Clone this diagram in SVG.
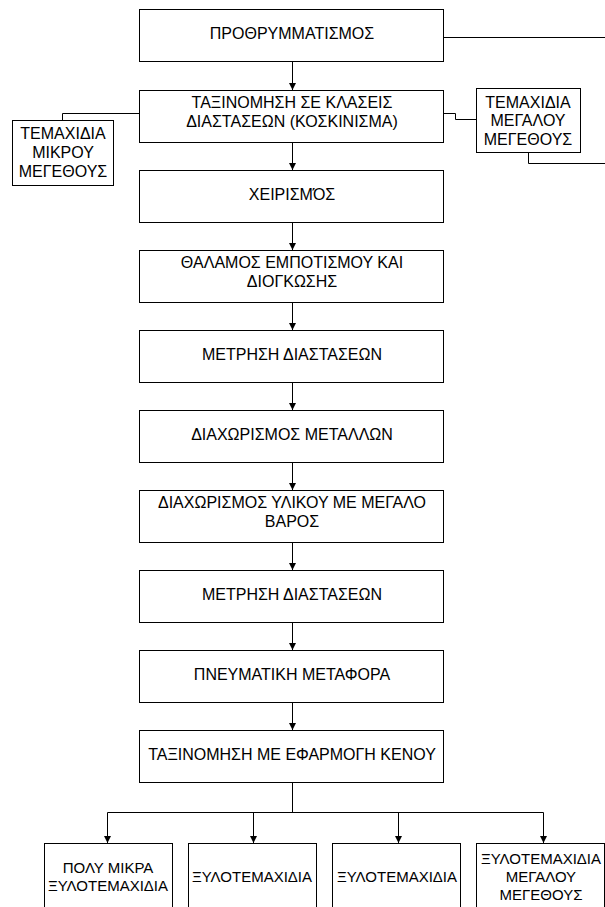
<svg xmlns="http://www.w3.org/2000/svg" width="605" height="907" viewBox="0 0 605 907">
<defs>
<marker id="ah" viewBox="0 0 8 8" refX="8" refY="4" markerWidth="7" markerHeight="7" markerUnits="userSpaceOnUse" orient="auto">
<path d="M0,0 L8,4 L0,8 z" fill="#000"/>
</marker>
</defs>
<style>
rect{fill:#fff;stroke:#000;stroke-width:1}
text{font-family:"Liberation Sans",Arial,sans-serif;font-size:16px;fill:#000;text-anchor:middle}
.s{font-size:15px}
.c{fill:none;stroke:#000;stroke-width:1}
.a{fill:none;stroke:#000;stroke-width:1;marker-end:url(#ah)}
</style>
<rect x="0" y="0" width="605" height="907" style="fill:#fff;stroke:none"/>
<g id="connectors">
<path class="c" d="M443,37.5 H605"/>
<path class="a" d="M292.5,62 V90"/>
<path class="c" d="M139,113.5 H62.5 V120"/>
<path class="c" d="M443,113.5 H455.5 V119.5 H476"/>
<path class="c" d="M528.5,152 V163.5 H605"/>
<path class="a" d="M292.5,142 V170"/>
<path class="a" d="M292.5,222 V250"/>
<path class="a" d="M292.5,302 V330"/>
<path class="a" d="M292.5,382 V410"/>
<path class="a" d="M292.5,462 V490"/>
<path class="a" d="M292.5,542 V570"/>
<path class="a" d="M292.5,622 V650"/>
<path class="a" d="M292.5,702 V730"/>
<path class="c" d="M292.5,782 V812.5 M107.5,812.5 H543.5"/>
<path class="a" d="M107.5,812.5 V843"/>
<path class="a" d="M253.5,812.5 V843"/>
<path class="a" d="M398.5,812.5 V843"/>
<path class="a" d="M543.5,812.5 V843"/>
</g>
<g id="n1"><rect x="139.5" y="9.5" width="304" height="52"/><text x="292" y="39">ΠΡΟΘΡΥΜΜΑΤΙΣΜΟΣ</text></g>
<g id="n2"><rect x="139.5" y="90.5" width="304" height="52"/><text x="292" y="108">ΤΑΞΙΝΟΜΗΣΗ ΣΕ ΚΛΑΣΕΙΣ</text><text x="292" y="127">ΔΙΑΣΤΑΣΕΩΝ (ΚΟΣΚΙΝΙΣΜΑ)</text></g>
<g id="nsmall"><rect x="12.5" y="120.5" width="101" height="65"/><text x="63" y="139">ΤΕΜΑΧΙΔΙΑ</text><text x="63" y="158">ΜΙΚΡΟΥ</text><text x="63" y="177">ΜΕΓΕΘΟΥΣ</text></g>
<g id="nlarge"><rect x="476.5" y="88.5" width="104" height="64"/><text x="528" y="108">ΤΕΜΑΧΙΔΙΑ</text><text x="528" y="126">ΜΕΓΑΛΟΥ</text><text x="528" y="145">ΜΕΓΕΘΟΥΣ</text></g>
<g id="n3"><rect x="139.5" y="170.5" width="304" height="52"/><text x="292" y="200">ΧΕΙΡΙΣΜΌΣ</text></g>
<g id="n4"><rect x="139.5" y="250.5" width="304" height="52"/><text x="292" y="268">ΘΑΛΑΜΟΣ ΕΜΠΟΤΙΣΜΟΥ ΚΑΙ</text><text x="292" y="287">ΔΙΟΓΚΩΣΗΣ</text></g>
<g id="n5"><rect x="139.5" y="330.5" width="304" height="52"/><text x="292" y="360">ΜΕΤΡΗΣΗ ΔΙΑΣΤΑΣΕΩΝ</text></g>
<g id="n6"><rect x="139.5" y="410.5" width="304" height="52"/><text x="292" y="440">ΔΙΑΧΩΡΙΣΜΟΣ ΜΕΤΑΛΛΩΝ</text></g>
<g id="n7"><rect x="139.5" y="490.5" width="304" height="52"/><text x="292" y="508">ΔΙΑΧΩΡΙΣΜΟΣ ΥΛΙΚΟΥ ΜΕ ΜΕΓΑΛΟ</text><text x="292" y="527">ΒΑΡΟΣ</text></g>
<g id="n8"><rect x="139.5" y="570.5" width="304" height="52"/><text x="292" y="600">ΜΕΤΡΗΣΗ ΔΙΑΣΤΑΣΕΩΝ</text></g>
<g id="n9"><rect x="139.5" y="650.5" width="304" height="52"/><text x="292" y="680">ΠΝΕΥΜΑΤΙΚΗ ΜΕΤΑΦΟΡΑ</text></g>
<g id="n10"><rect x="139.5" y="730.5" width="304" height="52"/><text x="292" y="760">ΤΑΞΙΝΟΜΗΣΗ ΜΕ ΕΦΑΡΜΟΓΗ ΚΕΝΟΥ</text></g>
<g id="b1"><rect x="44.5" y="843.5" width="128" height="70"/><text class="s" x="108" y="873">ΠΟΛΥ ΜΙΚΡΑ</text><text class="s" x="108" y="891">ΞΥΛΟΤΕΜΑΧΙΔΙΑ</text></g>
<g id="b2"><rect x="188.5" y="843.5" width="128" height="70"/><text class="s" x="252" y="882">ΞΥΛΟΤΕΜΑΧΙΔΙΑ</text></g>
<g id="b3"><rect x="332.5" y="843.5" width="128" height="70"/><text class="s" x="397" y="882">ΞΥΛΟΤΕΜΑΧΙΔΙΑ</text></g>
<g id="b4"><rect x="476.5" y="843.5" width="128" height="70"/><text class="s" x="541" y="864">ΞΥΛΟΤΕΜΑΧΙΔΙΑ</text><text class="s" x="541" y="882">ΜΕΓΑΛΟΥ</text><text class="s" x="541" y="900">ΜΕΓΕΘΟΥΣ</text></g>
</svg>
